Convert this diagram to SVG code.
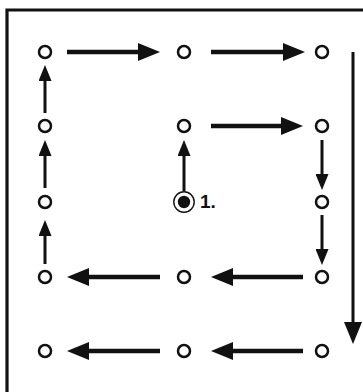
<svg xmlns="http://www.w3.org/2000/svg" width="363" height="392" viewBox="0 0 363 392">
<style>
.pt{fill:#fff;stroke:#111;stroke-width:2.5}
.h{stroke:#111;stroke-width:4.5;fill:none}
.v{stroke:#111;stroke-width:3;fill:none}
.frame{stroke:#111;stroke-width:3.2;fill:none}
.lbl{font-family:"Liberation Sans",Arial,sans-serif;font-weight:bold;font-size:19px;fill:#111}
</style>
<defs>
<marker id="big" markerUnits="userSpaceOnUse" markerWidth="24" markerHeight="18" refX="2" refY="9" orient="auto"><path d="M0,0 L22,9 L0,18 z" fill="#111"/></marker>
<marker id="small" markerUnits="userSpaceOnUse" markerWidth="16" markerHeight="13" refX="2" refY="6.5" orient="auto"><path d="M0,0 L16,6.5 L0,13 z" fill="#111"/></marker>
</defs>
<rect width="363" height="392" fill="#fff"/>
<path class="frame" d="M7,392 V10 H363"/>
<g id="connectors">
<line class="h" x1="67" y1="52" x2="140" y2="52" marker-end="url(#big)"/>
<line class="h" x1="211" y1="52" x2="285" y2="52" marker-end="url(#big)"/>
<line class="h" x1="211" y1="126" x2="283" y2="126" marker-end="url(#big)"/>
<line class="h" x1="160" y1="277" x2="87" y2="277" marker-end="url(#big)"/>
<line class="h" x1="303" y1="277" x2="231" y2="277" marker-end="url(#big)"/>
<line class="h" x1="160" y1="351" x2="87" y2="351" marker-end="url(#big)"/>
<line class="h" x1="303" y1="351" x2="231" y2="351" marker-end="url(#big)"/>
<line class="v" x1="353" y1="52" x2="353" y2="324" stroke-width="3.5" marker-end="url(#big)"/>
<line class="v" x1="45" y1="113" x2="45" y2="79" marker-end="url(#small)"/>
<line class="v" x1="45" y1="188" x2="45" y2="154" marker-end="url(#small)"/>
<line class="v" x1="45" y1="264" x2="45" y2="234" marker-end="url(#small)"/>
<line class="v" x1="184" y1="191" x2="184" y2="154" marker-end="url(#small)"/>
<line class="v" x1="322" y1="140" x2="322" y2="176" marker-end="url(#small)"/>
<line class="v" x1="322" y1="215" x2="322" y2="251" marker-end="url(#small)"/>
</g>
<g id="n11"><circle class="pt" cx="45" cy="52" r="6"/></g>
<g id="n12"><circle class="pt" cx="184" cy="52" r="6"/></g>
<g id="n13"><circle class="pt" cx="322" cy="52" r="6"/></g>
<g id="n21"><circle class="pt" cx="45" cy="126" r="6"/></g>
<g id="n22"><circle class="pt" cx="184" cy="126" r="6"/></g>
<g id="n23"><circle class="pt" cx="322" cy="126" r="6"/></g>
<g id="n31"><circle class="pt" cx="45" cy="202" r="6"/></g>
<g id="start">
<circle cx="184" cy="202" r="10.2" fill="#fff" stroke="#111" stroke-width="1.4"/>
<circle cx="184" cy="202" r="6.2" fill="#111"/>
<text class="lbl" x="200" y="208">1.</text>
</g>
<g id="n33"><circle class="pt" cx="322" cy="202" r="6"/></g>
<g id="n41"><circle class="pt" cx="45" cy="277" r="6"/></g>
<g id="n42"><circle class="pt" cx="184" cy="277" r="6"/></g>
<g id="n43"><circle class="pt" cx="322" cy="277" r="6"/></g>
<g id="n51"><circle class="pt" cx="45" cy="351" r="6"/></g>
<g id="n52"><circle class="pt" cx="184" cy="351" r="6"/></g>
<g id="n53"><circle class="pt" cx="322" cy="351" r="6"/></g>
</svg>
